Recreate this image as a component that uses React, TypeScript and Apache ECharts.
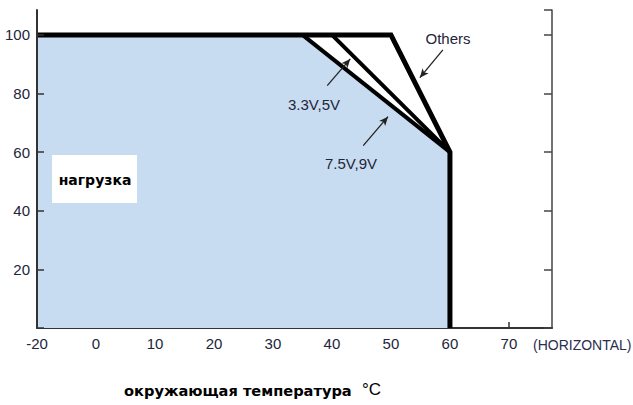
import React, { useEffect, useRef } from "react";
import * as echarts from "echarts";

// x value -10 is drawn at the axis start and labelled "-20" (broken axis in original)
const xTicks = [-10, 0, 10, 20, 30, 40, 50, 60, 70];
const xTickLabels = ["-20", "0", "10", "20", "30", "40", "50", "60", "70"];
const yTicks = [20, 40, 60, 80, 100];

const areaCurve: [number, number][] = [[-10, 100], [35, 100], [60, 60], [60, 0]];
const outerCurve: [number, number][] = [[-10, 100], [50, 100], [60, 60], [60, 0]];
const curve75V9V: [number, number][] = [[35, 100], [60, 60]];
const curve33V5V: [number, number][] = [[40, 100], [60, 60]];

const arrowOthers: [number, number][] = [[58.8, 94.9], [54.9, 85.4]];
const arrow33V: [number, number][] = [[39.2, 82.7], [43.1, 91.8]];
const arrow75V: [number, number][] = [[45.3, 62.2], [49.5, 72.1]];

const labelColor = "#23253a";

export default function App() {
  const ref = useRef<HTMLDivElement>(null);
  useEffect(() => {
    if (!ref.current) return;
    const chart = echarts.init(ref.current, null, { renderer: "svg" });
    const font = "Liberation Sans, Arial, sans-serif";
    const arrowLine = (pts: [number, number][]) => [
      { coord: pts[0], symbol: "none" },
      { coord: pts[1], symbol: "arrow" },
    ];
    chart.setOption({
      animation: false,
      backgroundColor: "#ffffff",
      grid: { left: 37, right: 81, top: 10, bottom: 77 },
      xAxis: {
        type: "value",
        min: -10,
        max: 77.3,
        interval: 10,
        axisLine: { show: true, onZero: false, lineStyle: { color: "#333", width: 2 } },
        axisTick: { show: true, inside: true, length: 6, lineStyle: { color: "#333", width: 1.5 } },
        splitLine: { show: false },
        axisLabel: {
          color: labelColor,
          fontSize: 15,
          fontFamily: font,
          margin: 8,
          showMaxLabel: false,
          formatter: (v: number) => {
            const i = xTicks.indexOf(v);
            return i >= 0 ? xTickLabels[i] : "";
          },
        },
      },
      yAxis: [
        {
          type: "value",
          min: 0,
          max: 108.5,
          interval: 20,
          axisLine: { show: true, onZero: false, lineStyle: { color: "#333", width: 2 } },
          axisTick: { show: true, inside: true, length: 7, lineStyle: { color: "#333", width: 1.5 } },
          splitLine: { show: false },
          axisLabel: {
            color: labelColor,
            fontSize: 15,
            fontFamily: font,
            margin: 7,
            showMaxLabel: false,
            formatter: (v: number) => (yTicks.includes(v) ? String(v) : ""),
          },
          z: 6,
        },
        {
          type: "value",
          position: "right",
          min: 0,
          max: 108.5,
          interval: 20,
          axisLine: { show: true, onZero: false, lineStyle: { color: "#444", width: 1.5 } },
          axisTick: { show: true, inside: true, length: 8, lineStyle: { color: "#444", width: 1.5 } },
          splitLine: { show: false },
          axisLabel: { show: false },
        },
      ],
      series: [
        {
          type: "line",
          data: areaCurve,
          symbol: "none",
          lineStyle: { width: 0 },
          areaStyle: { color: "#c8dcf1", opacity: 1, origin: "start" },
          silent: true,
          z: 1,
        },
        {
          type: "line",
          data: curve75V9V,
          symbol: "none",
          lineStyle: { color: "#000", width: 4 },
          z: 3,
        },
        {
          type: "line",
          data: curve33V5V,
          symbol: "none",
          lineStyle: { color: "#000", width: 4 },
          z: 3,
        },
        {
          type: "line",
          data: outerCurve,
          symbol: "none",
          lineStyle: { color: "#000", width: 5, join: "miter" },
          z: 4,
        },
        {
          type: "line",
          data: [],
          markLine: {
            silent: true,
            symbolSize: [6, 9],
            label: { show: false },
            lineStyle: { color: "#222", width: 1.3, type: "solid" },
            data: [arrowLine(arrowOthers), arrowLine(arrow33V), arrowLine(arrow75V)],
          },
          z: 5,
        },
      ],
      graphic: [
        { type: "rect", shape: { x: 52, y: 155, width: 85, height: 48 }, style: { fill: "#ffffff" }, z: 10 },
        {
          type: "text",
          x: 95,
          y: 180,
          style: { text: "нагрузка", font: "bold 14px 'DejaVu Sans', Verdana, sans-serif", fill: "#000", align: "center", verticalAlign: "middle" },
          z: 11,
        },
        {
          type: "text",
          x: 448,
          y: 38,
          style: { text: "Others", font: "15px 'Liberation Sans', Arial, sans-serif", fill: labelColor, align: "center", verticalAlign: "middle" },
          z: 11,
        },
        {
          type: "text",
          x: 314,
          y: 104,
          style: { text: "3.3V,5V", font: "15px 'Liberation Sans', Arial, sans-serif", fill: labelColor, align: "center", verticalAlign: "middle" },
          z: 11,
        },
        {
          type: "text",
          x: 351,
          y: 163,
          style: { text: "7.5V,9V", font: "15px 'Liberation Sans', Arial, sans-serif", fill: labelColor, align: "center", verticalAlign: "middle" },
          z: 11,
        },
        {
          type: "text",
          x: 533,
          y: 345,
          style: { text: "(HORIZONTAL)", font: "14px 'Liberation Sans', Arial, sans-serif", fill: "#2b2d50", align: "left", verticalAlign: "middle" },
          z: 11,
        },
        {
          type: "text",
          x: 124,
          y: 390,
          style: { text: "окружающая температура", font: "bold 14.6px 'DejaVu Sans', Verdana, sans-serif", fill: "#000", align: "left", verticalAlign: "middle" },
          z: 11,
        },
        {
          type: "text",
          x: 362,
          y: 389,
          style: { text: "°C", font: "17px 'Liberation Sans', Arial, sans-serif", fill: "#000", align: "left", verticalAlign: "middle" },
          z: 11,
        },
      ],
    });
    return () => chart.dispose();
  }, []);
  return <div ref={ref} style={{ width: 633, height: 405, position: "fixed", left: 0, top: 0 }} />;
}
